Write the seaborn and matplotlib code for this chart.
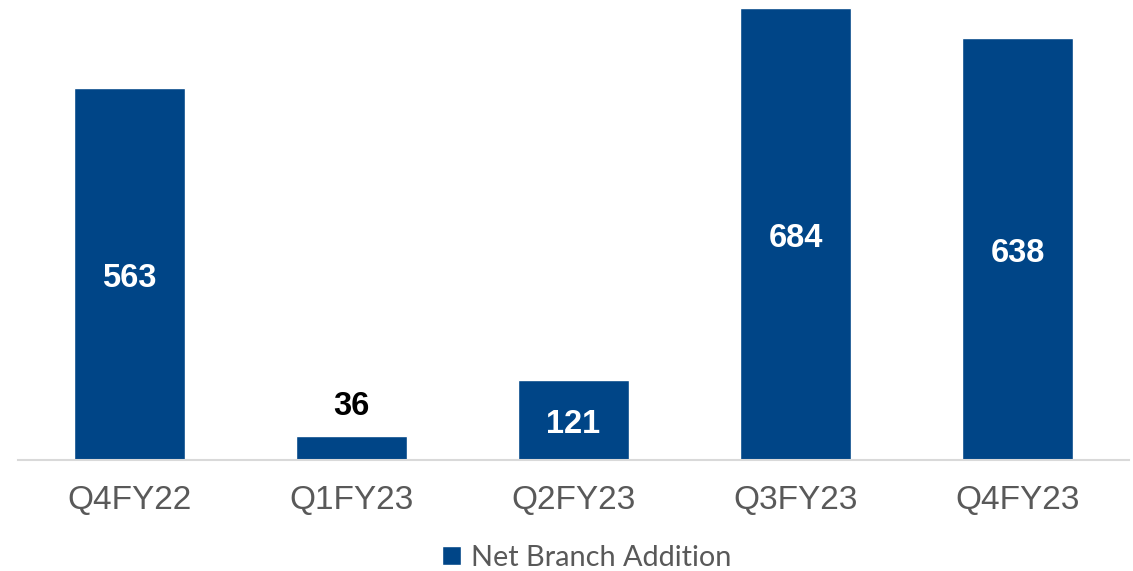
"""Net branch addition by quarter, bar chart."""

import matplotlib.pyplot as plt
import pandas as pd
import seaborn as sns

quarters = ["Q4FY22", "Q1FY23", "Q2FY23", "Q3FY23", "Q4FY23"]
net_branch_addition = [563, 36, 121, 684, 638]
series_name = "Net Branch Addition"

BAR_COLOR = "#004587"
TEXT_GRAY = "#595959"

sns.set_theme(style="white")
plt.rcParams["font.family"] = ["Liberation Sans", "DejaVu Sans"]

df = pd.DataFrame({"quarter": quarters, "value": net_branch_addition})

fig = plt.figure(figsize=(11.33, 5.71), dpi=100)
ax = fig.add_axes([18 / 1133, 111 / 571, 1111 / 1133, 460 / 571])

sns.barplot(data=df, x="quarter", y="value", color=BAR_COLOR, width=0.5,
            saturation=1, label=series_name, ax=ax)

ax.set_xlim(-0.5, len(quarters) - 0.5)
ax.set_ylim(0, 696)
ax.set_xlabel("")
ax.set_ylabel("")
ax.set_yticks([])
ax.tick_params(axis="x", length=0, pad=18, labelsize=24, labelcolor=TEXT_GRAY)

for side in ["left", "right", "top"]:
    ax.spines[side].set_visible(False)
ax.spines["bottom"].set_color("#d9d9d9")
ax.spines["bottom"].set_linewidth(1.5)

# small bars get the number on top, the rest inside
bars = ax.containers[0]
small = [v < 100 for v in net_branch_addition]
inside = ["" if s else str(v) for v, s in zip(net_branch_addition, small)]
above = [str(v) if s else "" for v, s in zip(net_branch_addition, small)]
ax.bar_label(bars, labels=inside, label_type="center", padding=-3,
             color="white", fontsize=23.5, fontweight="bold")
ax.bar_label(bars, labels=above, label_type="edge", padding=10, color="black",
             fontsize=23.5, fontweight="bold")

leg = fig.legend(loc="center", bbox_to_anchor=(587 / 1133, 1 - 558 / 571),
                 frameon=False, handlelength=0.65, handleheight=0.65,
                 handletextpad=0.35, prop={"family": "Lato", "size": 20.8})
for t in leg.get_texts():
    t.set_color(TEXT_GRAY)
ax.get_legend() and ax.get_legend().remove()

fig.savefig("out.png", dpi=100)
